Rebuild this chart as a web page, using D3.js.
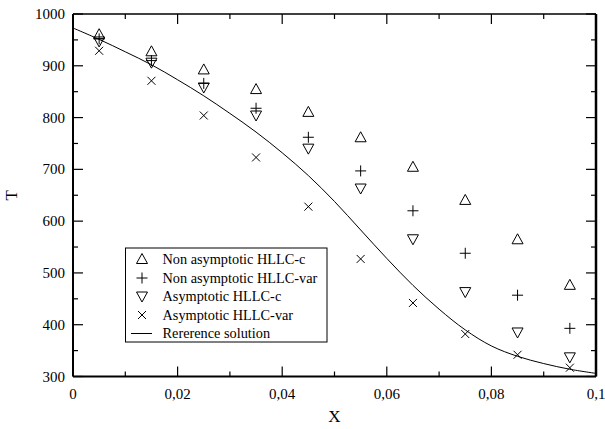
<!DOCTYPE html>
<html><head><meta charset="utf-8">
<script src="https://cdn.jsdelivr.net/npm/d3@7"></script>
<style>body{margin:0;background:#fff}svg{display:block}</style>
</head><body>
<svg id="chart" width="605" height="429"></svg>
<script>
// ---- data ----
const xValues = [0.005, 0.015, 0.025, 0.035, 0.045, 0.055, 0.065, 0.075, 0.085, 0.095];
const nonAsymC   = [961, 928, 893, 855, 811, 762, 705, 641, 565, 477];
const nonAsymVar = [952, 910, 866, 818, 762, 697, 620, 538, 457, 393];
const asymC      = [947, 906, 858, 804, 740, 663, 565, 463, 385, 337];
const asymVar    = [929, 871, 804, 723, 628, 527, 442, 382, 342, 317];
const refX = [0, 0.005, 0.01, 0.015, 0.02, 0.025, 0.03, 0.035, 0.04, 0.045, 0.05, 0.055, 0.06, 0.065, 0.07, 0.075, 0.08, 0.085, 0.09, 0.095, 0.1];
const refT = [973, 951, 927, 902, 873, 842, 808, 772, 732, 688, 638, 583, 528, 476, 430, 390, 359, 339, 325, 314, 306];
const xTickValues = [0, 0.02, 0.04, 0.06, 0.08, 0.1];
const xTickLabels = ["0", "0,02", "0,04", "0,06", "0,08", "0,1"];
const xMinorTicks = [0, 0.01, 0.02, 0.03, 0.04, 0.05, 0.06, 0.07, 0.08, 0.09, 0.1];
const yTickValues = [300, 400, 500, 600, 700, 800, 900, 1000];
const yMinorTicks = [300, 350, 400, 450, 500, 550, 600, 650, 700, 750, 800, 850, 900, 950, 1000];
const seriesNames = ["Non asymptotic HLLC-c", "Non asymptotic HLLC-var", "Asymptotic HLLC-c", "Asymptotic HLLC-var", "Rererence solution"];
const xLabel = "X", yLabel = "T";

// ---- layout ----
const L = 73, R = 596, T = 14, B = 376.5;
const svg = d3.select("#chart");
const x = d3.scaleLinear().domain([0, 0.1]).range([L, R]);
const y = d3.scaleLinear().domain([300, 1000]).range([B, T]);
const font = "'Liberation Serif','Times New Roman',serif";

// marker shapes (relative paths)
const shapes = {
  triUp: "M-5.5,4.5L5.5,4.5L0,-5.5Z",
  triDown: "M-5.5,-4.5L5.5,-4.5L0,5.5Z",
  plus: "M-5.5,0L5.5,0M0,-5.5L0,5.5",
  cross: "M-4,-4L4,4M-4,4L4,-4"
};
const series = [
  {vals: nonAsymC, shape: "triUp"},
  {vals: nonAsymVar, shape: "plus"},
  {vals: asymC, shape: "triDown"},
  {vals: asymVar, shape: "cross"}
];

// ticks (inward, all four sides)
const g = svg.append("g");
const xMajor = new Set(xTickValues.map(v => v.toFixed(3)));
xMinorTicks.forEach(v => {
  const len = xMajor.has(v.toFixed(3)) ? 10 : 5;
  g.append("line").attr("x1", x(v)).attr("x2", x(v)).attr("y1", B).attr("y2", B - len).attr("stroke", "#000").attr("stroke-width", 1.2);
  g.append("line").attr("x1", x(v)).attr("x2", x(v)).attr("y1", T).attr("y2", T + len).attr("stroke", "#000").attr("stroke-width", 1.2);
});
yMinorTicks.forEach(v => {
  const len = v % 100 === 0 ? 10 : 5;
  g.append("line").attr("y1", y(v)).attr("y2", y(v)).attr("x1", L).attr("x2", L + len).attr("stroke", "#000").attr("stroke-width", 1.2);
  g.append("line").attr("y1", y(v)).attr("y2", y(v)).attr("x1", R).attr("x2", R - len).attr("stroke", "#000").attr("stroke-width", 1.2);
});

// tick labels
xTickValues.forEach((v, i) => {
  svg.append("text").attr("x", x(v)).attr("y", 399).attr("text-anchor", "middle")
    .attr("font-family", font).attr("font-size", 15).text(xTickLabels[i]);
});
yTickValues.forEach(v => {
  svg.append("text").attr("x", 65).attr("y", y(v) + 5).attr("text-anchor", "end")
    .attr("font-family", font).attr("font-size", 15).text(v);
});

// axis titles
svg.append("text").attr("x", (L + R) / 2).attr("y", 422).attr("text-anchor", "middle")
  .attr("font-family", font).attr("font-size", 17).text(xLabel);
svg.append("text").attr("transform", `translate(17,${(T + B) / 2}) rotate(-90)`).attr("text-anchor", "middle")
  .attr("font-family", font).attr("font-size", 17).text(yLabel);

// reference line
const line = d3.line().x(d => x(d[0])).y(d => y(d[1])).curve(d3.curveCatmullRom);
svg.append("path").datum(refX.map((v, i) => [v, refT[i]])).attr("d", line)
  .attr("fill", "none").attr("stroke", "#000").attr("stroke-width", 1);

// markers
series.forEach(s => {
  svg.append("g").selectAll("path").data(s.vals).join("path")
    .attr("transform", (d, i) => `translate(${x(xValues[i])},${y(d)})`)
    .attr("d", shapes[s.shape]).attr("fill", "none").attr("stroke", "#000").attr("stroke-width", 1);
});

// frame
svg.append("line").attr("x1", L).attr("x2", R).attr("y1", T).attr("y2", T).attr("stroke", "#000").attr("stroke-width", 1.5);
svg.append("line").attr("x1", L).attr("x2", R).attr("y1", B).attr("y2", B).attr("stroke", "#000").attr("stroke-width", 2);
svg.append("line").attr("x1", L).attr("x2", L).attr("y1", T).attr("y2", B).attr("stroke", "#000").attr("stroke-width", 2);
svg.append("line").attr("x1", R).attr("x2", R).attr("y1", T).attr("y2", B).attr("stroke", "#000").attr("stroke-width", 2.5);

// legend
const lg = svg.append("g");
lg.append("rect").attr("x", 125.5).attr("y", 248).attr("width", 201.5).attr("height", 94)
  .attr("fill", "#fff").attr("stroke", "#000").attr("stroke-width", 1);
const rowY = [259, 278, 296.5, 315, 333.5];
seriesNames.forEach((name, i) => {
  if (i < 4) {
    lg.append("path").attr("transform", `translate(142,${rowY[i]})`).attr("d", shapes[series[i].shape])
      .attr("fill", "none").attr("stroke", "#000").attr("stroke-width", 1);
  } else {
    lg.append("line").attr("x1", 131).attr("x2", 152).attr("y1", rowY[i]).attr("y2", rowY[i]).attr("stroke", "#000").attr("stroke-width", 1);
  }
  lg.append("text").attr("x", 162.5).attr("y", rowY[i] + 4.5).attr("font-family", font).attr("font-size", 14.3).text(name);
});
</script>
</body></html>
